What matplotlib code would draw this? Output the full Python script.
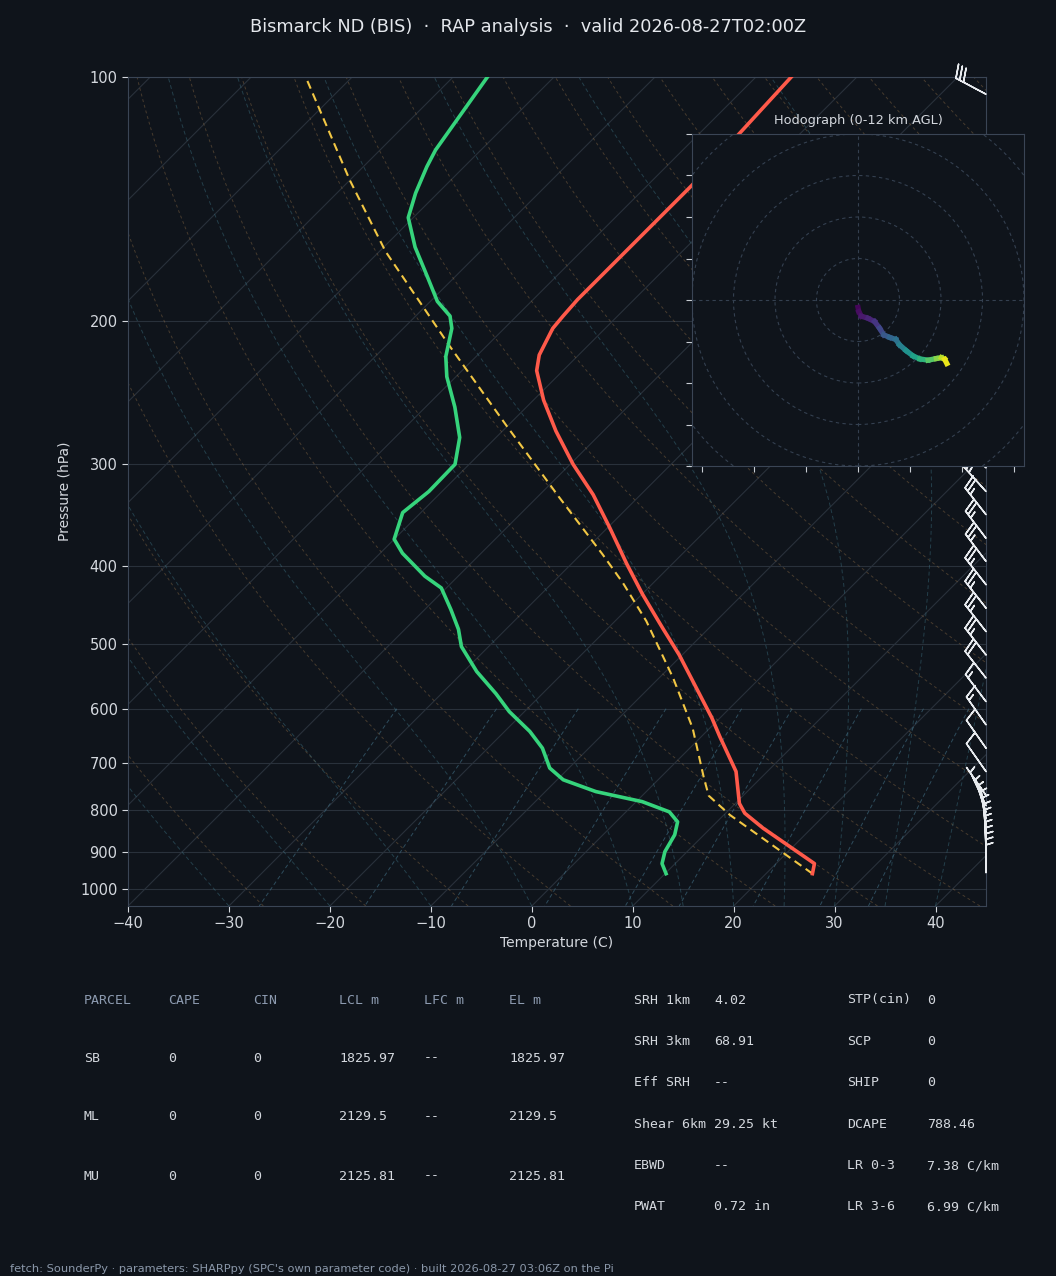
import numpy as np
import matplotlib
matplotlib.use("Agg")
import matplotlib.pyplot as plt
import matplotlib.transforms as mtransforms
from matplotlib.collections import LineCollection
from matplotlib.patches import Circle

# ---- sounding (hPa, degC) ----
t_pres = [958, 931, 842, 807, 785, 717, 649, 616, 515, 479, 468, 434, 398, 359, 327,
          300, 273, 250, 230, 220, 204, 197, 188, 136, 100]
t_temp = [24.6, 23.8, 15.2, 11.9, 10.4, 6.9, 1.8, -0.8, -10.3, -14.4, -15.7, -19.9, -24.5,
          -29.8, -34.7, -39.7, -44.7, -49.0, -52.6, -53.9, -55.2, -55.4, -55.6, -55.6, -56.5]

d_pres = [958, 931, 900, 858, 827, 804, 781, 759, 734, 710, 671, 640, 605, 575, 540, 503,
          479, 453, 426, 412, 386, 371, 344, 324, 300, 278, 255, 234, 221, 204, 197, 189,
          176, 162, 149, 139, 129, 123, 100]
d_temp = [10.1, 8.7, 7.8, 7.1, 6.1, 4.3, 0.6, -5.0, -9.4, -11.9, -14.6, -17.5, -21.5, -24.6,
          -28.7, -32.7, -34.7, -37.4, -40.5, -43.3, -47.8, -50.0, -51.8, -51.3, -51.4, -53.6,
          -57.1, -60.9, -63.0, -65.2, -66.6, -69.3, -72.8, -76.9, -80.5, -82.2, -83.7, -84.5,
          -86.6]

# surface-based parcel
prof_pres = [958, 811, 768, 731, 634, 550, 468, 420, 387, 330, 269, 214, 204, 164, 134, 100]
prof_temp = [24.6, 10.6, 6.6, 4.4, -1.7, -8.6, -16.9, -23.0, -27.9, -37.7, -50.1, -63.8, -66.6,
             -79.4, -90.0, -104.6]

# wind barbs (hPa, direction deg, speed kt)
barb_pres = [105, 137, 146, 156, 167, 178, 191, 204, 218, 233, 249, 266, 284,
             303, 324, 346, 370, 395, 422, 451, 482, 515, 550, 588, 628, 671, 717, 767,
             790, 805, 820, 835, 850, 865, 880, 895, 910, 925, 940, 955]
barb_dir = [298, 305, 306, 307, 308, 309, 310, 311, 312, 313, 314, 315, 316,
            317, 318, 322, 323, 323, 322, 322, 322, 322, 322, 323, 325, 325, 325, 325,
            335, 342, 348, 352, 355, 356, 357, 358, 359, 0, 0, 0]
barb_spd = [28, 27, 27, 27, 27, 27, 27, 27, 27, 27, 27, 27, 27,
            27, 27, 27, 27, 26, 26, 25, 25, 25, 20, 17, 15, 10, 10, 7,
            6, 5, 5, 5, 4, 4, 4, 3, 3, 3, 3, 3]

# hodograph 0-12 km (kt, km AGL)
hodo_u = [0.0, 0.2, 0.8, 2.4, 4.0, 5.2, 6.2, 7.6, 9.1, 10.0, 11.6, 13.3, 14.9, 16.9, 18.9, 20.1, 20.9, 21.4]
hodo_v = [-1.8, -2.8, -3.9, -4.4, -5.2, -6.8, -8.4, -9.0, -9.5, -10.8, -12.2, -13.5, -14.2, -14.5, -14.1, -13.9, -14.3, -15.3]
hodo_z = [0, 0.3, 0.6, 1.0, 1.5, 2.2, 3.0, 3.6, 4.1, 4.8, 5.6, 6.5, 7.3, 8.3, 9.4, 10.3, 11.2, 12.0]

parcel_head = ["PARCEL", "CAPE", "CIN", "LCL m", "LFC m", "EL m"]
parcel_rows = [["SB", "0", "0", "1825.97", "--", "1825.97"],
               ["ML", "0", "0", "2129.5", "--", "2129.5"],
               ["MU", "0", "0", "2125.81", "--", "2125.81"]]
params_a = [("SRH 1km", "4.02"), ("SRH 3km", "68.91"), ("Eff SRH", "--"),
            ("Shear 6km", "29.25 kt"), ("EBWD", "--"), ("PWAT", "0.72 in")]
params_b = [("STP(cin)", "0"), ("SCP", "0"), ("SHIP", "0"), ("DCAPE", "788.46"),
            ("LR 0-3", "7.38 C/km"), ("LR 3-6", "6.99 C/km")]

BG = "#0f141b"
GRID = "#29313b"
SPINE = "#3a4555"
TXT = "#d4d8de"
MUTED = "#8d9bb0"

P_BOT, P_TOP = 1050, 100
K = 80.5  # skew: degC shift per decade of pressure


def skew(t, p):
    return np.asarray(t) + K * np.log10(P_BOT / np.asarray(p))


W, H = 1056, 1276
fig = plt.figure(figsize=(W / 100, H / 100), dpi=100, facecolor=BG)
ax = fig.add_axes([128 / W, 1 - 906 / H, 858 / W, 829 / H])
ax.set_facecolor(BG)
ax.set_yscale("log")
ax.set_ylim(P_BOT, P_TOP)
ax.set_xlim(-40, 45)

pg = np.geomspace(P_BOT, P_TOP, 300)

# isotherms + isobars
for t0 in np.arange(-170, 50, 10):
    ax.plot(skew(t0, pg), pg, color=GRID, lw=0.8, zorder=1)
for p0 in range(100, 1001, 100):
    ax.axhline(p0, color=GRID, lw=0.8, zorder=1)

# dry adiabats
for t0 in np.arange(-30, 201, 10):
    tt = (t0 + 273.15) * (pg / 1000.0) ** 0.2857 - 273.15
    ax.plot(skew(tt, pg), pg, color="#8a6a45", alpha=0.45, lw=0.7, ls=(0, (3, 3)), zorder=1)

# moist adiabats
Rd, Cp, Lv, eps = 287.04, 1005.7, 2.501e6, 0.622


def dtdp(T, p):
    tc = T - 273.15
    es = 6.112 * np.exp(17.67 * tc / (tc + 243.5))
    rs = eps * es / (p - es)
    return (Rd * T + Lv * rs) / (Cp + Lv ** 2 * rs * eps / (Rd * T ** 2)) / p


moist_t0 = np.concatenate((np.arange(-50, 10, 10), np.arange(10, 41, 5))) + 273.15
T = moist_t0.copy()
moist = [T.copy()]
for i in range(len(pg) - 1):
    h = pg[i + 1] - pg[i]
    k1 = dtdp(T, pg[i])
    k2 = dtdp(T + 0.5 * h * k1, pg[i] + 0.5 * h)
    k3 = dtdp(T + 0.5 * h * k2, pg[i] + 0.5 * h)
    k4 = dtdp(T + h * k3, pg[i + 1])
    T = T + h / 6 * (k1 + 2 * k2 + 2 * k3 + k4)
    moist.append(T.copy())
moist = np.array(moist) - 273.15
for j in range(moist.shape[1]):
    ax.plot(skew(moist[:, j], pg), pg, color="#3d7384", alpha=0.45, lw=0.7,
            ls=(0, (4, 3)), zorder=1)

# mixing ratio lines
pm = np.linspace(600, P_BOT, 50)
for w in [0.0004, 0.001, 0.002, 0.004, 0.007, 0.01, 0.016, 0.024, 0.032]:
    e = w * pm / (eps + w)
    ln = np.log(e / 6.112)
    td = 243.5 * ln / (17.67 - ln)
    ax.plot(skew(td, pm), pm, color="#3b6478", alpha=0.7, lw=0.7, ls=(0, (4, 3)), zorder=1)

# profiles
ax.plot(skew(prof_temp, prof_pres), prof_pres, color="#f2c744", lw=1.5, ls=(0, (4, 2.5)), zorder=3)
ax.plot(skew(t_temp, t_pres), t_pres, color="#ff5a4a", lw=2.6, zorder=4)
ax.plot(skew(d_temp, d_pres), d_pres, color="#36d47c", lw=2.6, zorder=4)

# barbs on the right edge
wd = np.radians(barb_dir)
bu = -np.array(barb_spd) * np.sin(wd)
bv = -np.array(barb_spd) * np.cos(wd)
trans = mtransforms.blended_transform_factory(ax.transAxes, ax.transData)
ax.barbs(np.ones(len(barb_pres)), barb_pres, bu, bv, transform=trans, length=7,
         color="#e8ebef", lw=1.1, clip_on=False, zorder=5)

ax.yaxis.set_major_locator(plt.FixedLocator(range(100, 1001, 100)))
ax.yaxis.set_minor_locator(plt.NullLocator())
ax.yaxis.set_major_formatter(plt.FuncFormatter(lambda v, _: f"{int(v)}"))
ax.set_xticks(range(-40, 41, 10))
ax.tick_params(colors=TXT, labelsize=10.5, length=4, color=TXT)
for s in ax.spines.values():
    s.set_color(SPINE)
ax.set_xlabel("Temperature (C)", color=TXT, fontsize=10, labelpad=3)
ax.set_ylabel("Pressure (hPa)", color=TXT, fontsize=10, labelpad=6)

fig.text(0.5, 1 - 27 / H, "Bismarck ND (BIS)  \u00b7  RAP analysis  \u00b7  valid 2026-08-27T02:00Z",
         ha="center", va="center", color="#e4e7ec", fontsize=12.8)

# hodograph inset
hax = fig.add_axes([692 / W, 1 - 466 / H, 332 / W, 332 / H])
hax.set_facecolor(BG)
hax.set_xlim(-40, 40)
hax.set_ylim(-40, 40)
for r in range(10, 61, 10):
    hax.add_patch(Circle((0, 0), r, fill=False, ec="#344050", lw=0.8, ls=(0, (3, 3))))
hax.axhline(0, color="#344050", lw=0.8, ls=(0, (3, 3)))
hax.axvline(0, color="#344050", lw=0.8, ls=(0, (3, 3)))
pts = np.column_stack([hodo_u, hodo_v])
segs = np.stack([pts[:-1], pts[1:]], axis=1)
lc = LineCollection(segs, cmap="viridis", norm=plt.Normalize(0, 12), lw=3.8, capstyle="projecting")
lc.set_array(0.5 * (np.array(hodo_z[:-1]) + np.array(hodo_z[1:])))
hax.add_collection(lc)
hax.set_xticks([-37.5, -25, -12.5, 0, 12.5, 25, 37.5])
hax.set_yticks(range(-40, 41, 10))
hax.set_xticklabels([])
hax.set_yticklabels([])
hax.tick_params(color="#c8cdd3", length=4)
for s in hax.spines.values():
    s.set_color(SPINE)
hax.set_title("Hodograph (0-12 km AGL)", color=TXT, fontsize=9.3, pad=7)

# parameter tables
mono = "DejaVu Sans Mono"
cols = [84, 168, 253, 339, 424, 509]
for x, h in zip(cols, parcel_head):
    fig.text(x / W, 1 - 1000 / H, h, color=MUTED, fontsize=9.5, family=mono, va="center")
for row, y in zip(parcel_rows, [1058, 1117, 1176]):
    for x, v in zip(cols, row):
        fig.text(x / W, 1 - y / H, v, color=TXT, fontsize=9.5, family=mono, va="center")
for i, ((la, va), (lb, vb)) in enumerate(zip(params_a, params_b)):
    y = 1 - (1000 + 41.4 * i) / H
    fig.text(634 / W, y, la, color=TXT, fontsize=9.5, family=mono, va="center")
    fig.text(714 / W, y, va, color=TXT, fontsize=9.5, family=mono, va="center")
    fig.text(847 / W, y, lb, color=TXT, fontsize=9.5, family=mono, va="center")
    fig.text(927 / W, y, vb, color=TXT, fontsize=9.5, family=mono, va="center")

fig.text(10 / W, 1 - 1269 / H,
         "fetch: SounderPy \u00b7 parameters: SHARPpy (SPC's own parameter code) \u00b7 built 2026-08-27 03:06Z on the Pi",
         color="#8b98aa", fontsize=8.2, va="center")

fig.savefig("out.png", dpi=100, facecolor=BG)
